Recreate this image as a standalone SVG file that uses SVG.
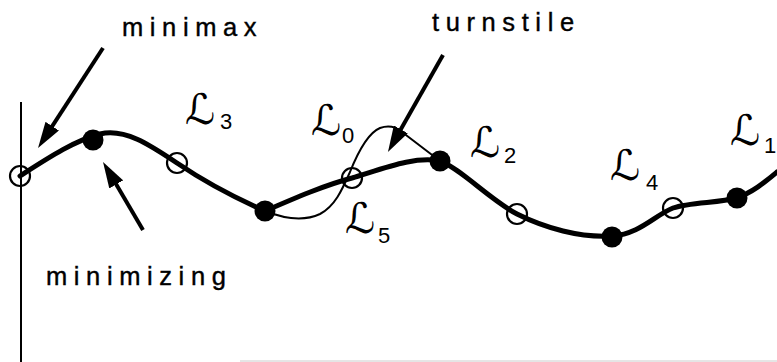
<svg xmlns="http://www.w3.org/2000/svg" width="777" height="362" viewBox="0 0 777 362">
<defs>
<style>
.lbl{font-family:"Liberation Sans",Arial,sans-serif;font-size:25.5px;letter-spacing:6.6px;fill:#000;stroke:#000;stroke-width:0.4}
.scr{font-family:"DejaVu Serif","DejaVu Sans",serif;font-style:italic;font-size:42px;fill:#000}
.sub{font-family:"Liberation Sans",Arial,sans-serif;font-size:22px;fill:#000}
.thick{fill:none;stroke:#000;stroke-width:5;stroke-linecap:round;stroke-linejoin:round}
.thin{fill:none;stroke:#000;stroke-width:2;stroke-linecap:round;stroke-linejoin:round}
.arrow{fill:none;stroke:#000;stroke-width:4;marker-end:url(#ah)}
.open{fill:none;stroke:#000;stroke-width:2.2}
.dot{fill:#000}
</style>
<marker id="ah" viewBox="0 0 26 16" refX="16" refY="8" markerWidth="26" markerHeight="16" markerUnits="userSpaceOnUse" orient="auto">
<path d="M0,0 L26,8 L0,16 z" fill="#000"/>
</marker>
</defs>
<rect width="777" height="362" fill="#fff"/>
<line x1="21" y1="102" x2="21" y2="362" stroke="#000" stroke-width="2"/>
<line x1="240" y1="361" x2="777" y2="361" stroke="#ccc" stroke-width="1"/>
<g id="connectors">
<path class="thick" d="M20,176 C45,160 75,140 100,134 C125,128 150,145 177,163 C205,182 240,200 265,211 C295,198 325,185 352,178 C385,168 415,156 440,161 C460,168 490,200 517,214 C545,228 580,238 612,236 C640,234 655,215 673,208 C690,202 720,203 736,198 C752,193 765,182 777,172"/>
<path class="thin" d="M265,211 C285,219 305,221 320,214 C335,206 342,190 350,172 C358,152 368,133 380,128 C388,125 395,126 402,132 L440,161"/>
<line class="arrow" x1="103" y1="48" x2="43.5" y2="139.6"/>
<line class="arrow" x1="143" y1="230" x2="108.1" y2="170.6"/>
<line class="arrow" x1="443" y1="55" x2="392.9" y2="143.3"/>
</g>
<g id="n1"><circle class="open" cx="20" cy="176" r="10"/></g>
<g id="n2"><circle class="dot" cx="93" cy="140" r="10.5"/></g>
<g id="n3"><circle class="open" cx="177" cy="163" r="10"/></g>
<g id="n4"><circle class="dot" cx="265" cy="211" r="10.5"/></g>
<g id="n5"><circle class="open" cx="352" cy="178" r="10"/></g>
<g id="n6"><circle class="dot" cx="440" cy="161" r="10.5"/></g>
<g id="n7"><circle class="open" cx="517" cy="214" r="10"/></g>
<g id="n8"><circle class="dot" cx="612" cy="237" r="10.5"/></g>
<g id="n9"><circle class="open" cx="673" cy="208" r="10"/></g>
<g id="n10"><circle class="dot" cx="737" cy="198" r="10.5"/></g>
<g id="t-minimax"><text class="lbl" x="122" y="36" letter-spacing="7.5">minimax</text></g>
<g id="t-turnstile"><text class="lbl" x="432" y="31">turnstile</text></g>
<g id="t-minimizing"><text class="lbl" x="46" y="285">minimizing</text></g>
<g id="L3"><text class="scr" x="185" y="124">ℒ</text><text class="sub" x="220" y="129">3</text></g>
<g id="L0"><text class="scr" x="311" y="135">ℒ</text><text class="sub" x="342" y="143">0</text></g>
<g id="L2"><text class="scr" x="470" y="157">ℒ</text><text class="sub" x="504" y="163">2</text></g>
<g id="L5"><text class="scr" x="345" y="233">ℒ</text><text class="sub" x="378" y="243">5</text></g>
<g id="L4"><text class="scr" x="610" y="180">ℒ</text><text class="sub" x="646" y="190">4</text></g>
<g id="L1"><text class="scr" x="730" y="145">ℒ</text><text class="sub" x="764" y="153">1</text></g>
</svg>
